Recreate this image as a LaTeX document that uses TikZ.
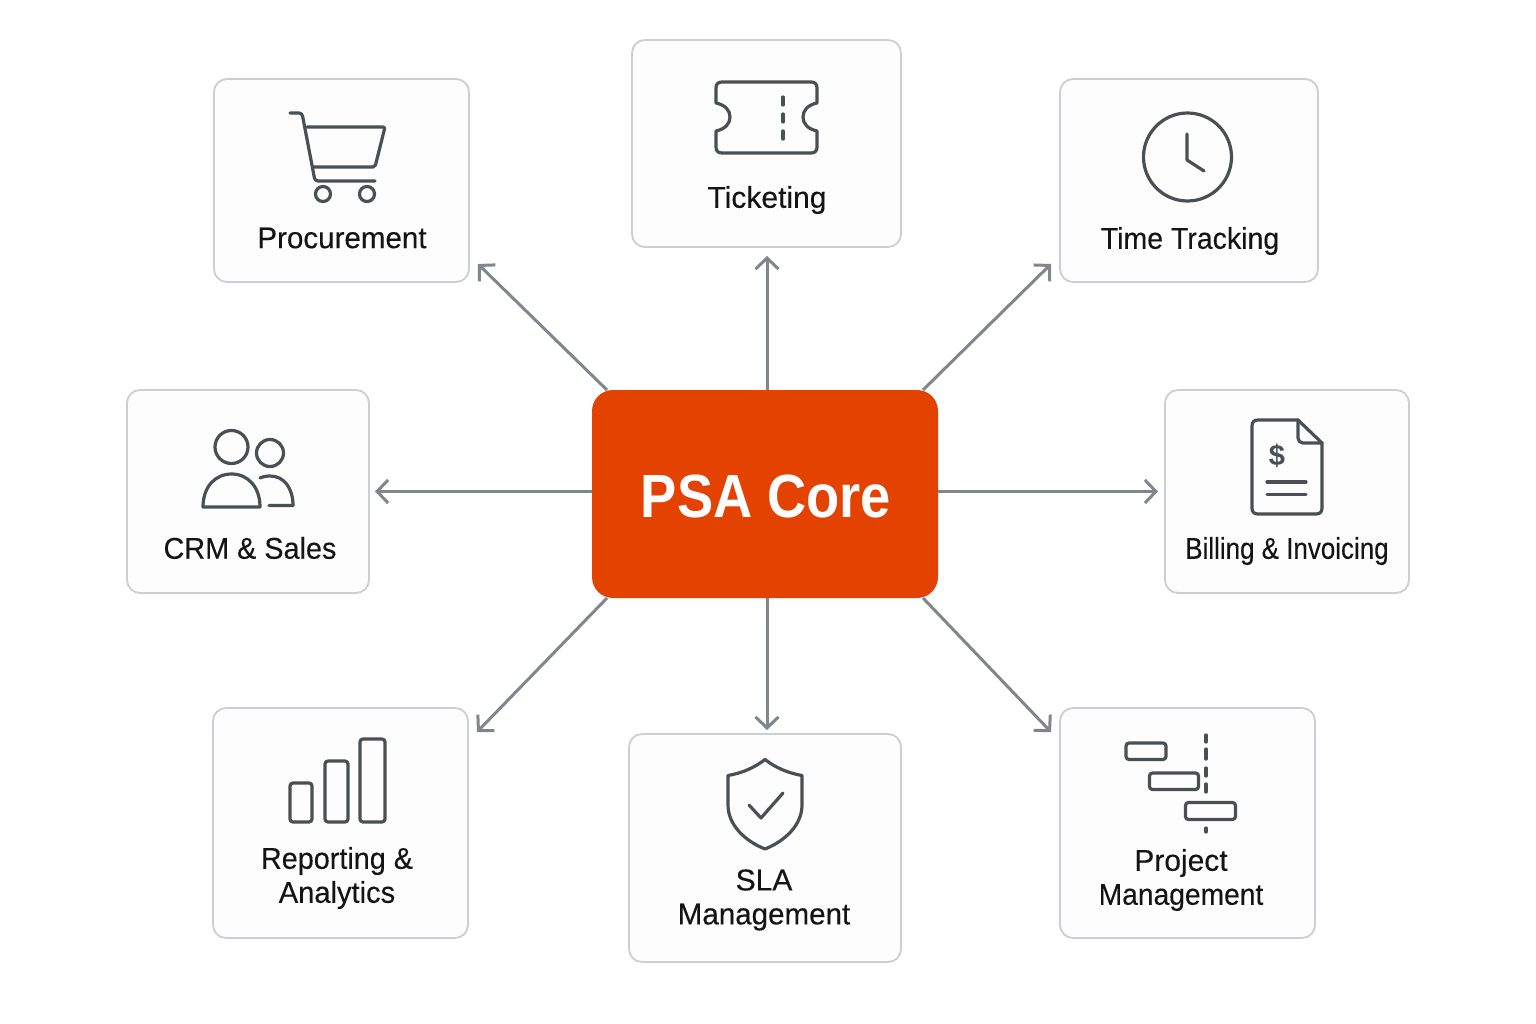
\documentclass[tikz,border=0pt]{standalone}
\usepackage{fontspec}
\setmainfont[FakeBold=0.25]{Liberation Sans}[BoldFont={Liberation Sans Bold},BoldFeatures={FakeBold=0}]
\usetikzlibrary{arrows.meta}
\definecolor{cardedge}{HTML}{CBCFD3}
\definecolor{cardfill}{HTML}{FDFDFD}
\definecolor{linkgray}{HTML}{80868C}
\definecolor{icondark}{HTML}{4A4F55}
\definecolor{coreorange}{HTML}{E34200}
\definecolor{labelink}{HTML}{141414}
\newcommand{\squeeze}[2]{\scalebox{#1}[1]{#2}}
\tikzset{
  card/.style={draw=cardedge,fill=cardfill,line width=1.8pt,rounded corners=13pt,inner sep=0pt,outer sep=0pt},
  core/.style={fill=coreorange,rounded corners=21pt,inner sep=0pt,outer sep=0pt,minimum width=346pt,minimum height=208pt},
  link/.style={draw=linkgray,line width=3pt,-{Straight Barb[length=11pt,width=23pt,line width=3pt]}},
  glyph/.style={draw=icondark,line width=3.2pt,line cap=round,line join=round},
  cardlabel/.style={text=labelink,font=\fontsize{30}{34}\selectfont,align=center,inner sep=0pt},
}
\begin{document}
\begin{tikzpicture}[x=1pt,y=-1pt]
\useasboundingbox[fill=white] (0,0) rectangle (1536,1024);
% cards
\node[card,minimum width=255pt,minimum height=203pt] (proc) at (341.5,180.5) {};
\node[card,minimum width=269pt,minimum height=207pt] (tick) at (766.5,143.5) {};
\node[card,minimum width=258pt,minimum height=203pt] (time) at (1189,180.5) {};
\node[card,minimum width=242pt,minimum height=203pt] (crm) at (248,491.5) {};
\node[card,minimum width=244pt,minimum height=203pt] (bill) at (1287,491.5) {};
\node[card,minimum width=255pt,minimum height=230pt] (rep) at (340.5,823) {};
\node[card,minimum width=272pt,minimum height=228pt] (sla) at (765,848) {};
\node[card,minimum width=255pt,minimum height=230pt] (proj) at (1187.5,823) {};
\node[core] (hub) at (765,494) {};
\node[text=white,font=\fontsize{61}{61}\bfseries\selectfont,inner sep=0pt] (hubtext) at (766,496) {\squeeze{0.89}{PSA Core}};
% connectors
\draw[link] ([xshift=15pt]hub.north west) -- ([shift={(9,-18)}]proc.south east);
\draw[link] ([xshift=2pt]hub.north) -- ([xshift=0.5pt,yshift=-9pt]tick.south);
\draw[link] ([xshift=-15pt]hub.north east) -- ([shift={(-9,-18)}]time.south west);
\draw[link] ([yshift=2.5pt]hub.west) -- ([xshift=6pt]crm.east);
\draw[link] ([yshift=2.5pt]hub.east) -- ([xshift=-7pt]bill.west);
\draw[link] ([xshift=15pt]hub.south west) -- ([shift={(9,24)}]rep.north east);
\draw[link] ([xshift=2pt]hub.south) -- ([xshift=2pt,yshift=4pt]sla.north);
\draw[link] ([xshift=-15pt]hub.south east) -- ([shift={(-9,24)}]proj.north west);
% labels
\node[cardlabel] (l1) at (342,238) {\squeeze{0.985}{Procurement}};
\node[cardlabel] (l2) at (767,200) {Ticketing};
\node[cardlabel] (l3) at (1190,241) {\squeeze{0.95}{Time Tracking}};
\node[cardlabel] (l4) at (250,548) {\squeeze{0.96}{CRM \& Sales}};
\node[cardlabel] (l5) at (1287,551) {\squeeze{0.865}{Billing \& Invoicing}};
\node[cardlabel] (l6) at (337,878) {\squeeze{0.96}{Reporting \&}\\\squeeze{0.97}{Analytics}};
\node[cardlabel] (l7) at (764,900) {SLA\\\squeeze{0.985}{Management}};
\node[cardlabel] (l8) at (1181,880) {Project\\\squeeze{0.94}{Management}};
% cart
\draw[glyph,rounded corners=3pt] (290,113) -- (302,113) -- (315,181) -- (375,181);
\draw[glyph,rounded corners=2pt] (307,127) -- (385,127) -- (375,167) -- (313,167);
\draw[glyph] (323,194) circle (7.5);
\draw[glyph] (367,194) circle (7.5);
% ticket
\draw[glyph,rounded corners=0pt] (722,82) -- (811,82) .. controls (815,82) and (817,84) .. (817,88) -- (817,103)
  .. controls (808,105) and (803,110) .. (803,117) .. controls (803,124) and (808,129) .. (817,131)
  -- (817,147) .. controls (817,151) and (815,153) .. (811,153) -- (722,153) .. controls (718,153) and (716,151) .. (716,147) -- (716,131)
  .. controls (725,129) and (730,124) .. (730,117) .. controls (730,110) and (725,105) .. (716,103)
  -- (716,88) .. controls (716,84) and (718,82) .. (722,82) -- cycle;
\draw[glyph] (783,97) -- (783,105);
\draw[glyph] (783,114) -- (783,122);
\draw[glyph] (783,131) -- (783,139);
% clock
\draw[glyph] (1187.5,157) circle (44);
\draw[glyph] (1187,134) -- (1187,160) -- (1204,171);
% people
\draw[glyph] (231.5,447) circle (16.5);
\draw[glyph] (270,453) circle (13.5);
\draw[glyph] (203,507) .. controls (203,487) and (215,474) .. (231.5,474) .. controls (248,474) and (260,487) .. (260,507) -- cycle;
\draw[glyph] (260,478) .. controls (263,476.5) and (267,476) .. (270,476) .. controls (284,476) and (293,488) .. (293,505.5) -- (269,505.5);
% invoice
\draw[glyph] (1298,420) -- (1258,420) .. controls (1254,420) and (1252,422) .. (1252,426) -- (1252,508) .. controls (1252,512) and (1254,514) .. (1258,514) -- (1316,514) .. controls (1320,514) and (1322,512) .. (1322,508) -- (1322,443) -- cycle;
\draw[glyph,rounded corners=5pt] (1298,420) -- (1298,443) -- (1322,443);
\node[text=icondark,font=\fontsize{29}{29}\bfseries\selectfont,inner sep=0pt] (dollar) at (1277,456) {\$};
\draw[glyph] (1267,482) -- (1306,482);
\draw[glyph] (1267,494.5) -- (1306,494.5);
% bars
\draw[glyph,rounded corners=3pt] (290,783) rectangle (312,822);
\draw[glyph,rounded corners=3pt] (325,761) rectangle (348,822);
\draw[glyph,rounded corners=3pt] (360,739) rectangle (385,822);
% shield
\draw[glyph] (765,759.5) .. controls (754,768) and (742,773) .. (728,775.5) -- (728,805) .. controls (728,825) and (745,841) .. (765,849) .. controls (785,841) and (802,825) .. (802,805) -- (802,775.5) .. controls (788,773) and (776,768) .. (765,759.5) -- cycle;
\draw[glyph] (749,805) -- (761,818) -- (783,793);
% gantt
\draw[glyph,rounded corners=3pt] (1126,743) rectangle (1166,759.5);
\draw[glyph,rounded corners=3pt] (1149.5,773) rectangle (1198.5,789.5);
\draw[glyph,rounded corners=3pt] (1185.5,802.5) rectangle (1235.5,819.5);
\draw[glyph] (1206,735) -- (1206,742);
\draw[glyph] (1206,749) -- (1206,759);
\draw[glyph] (1206,768) -- (1206,776);
\draw[glyph] (1206,784) -- (1206,792);
\draw[glyph] (1206,828) -- (1206,832);
\end{tikzpicture}
\end{document}
